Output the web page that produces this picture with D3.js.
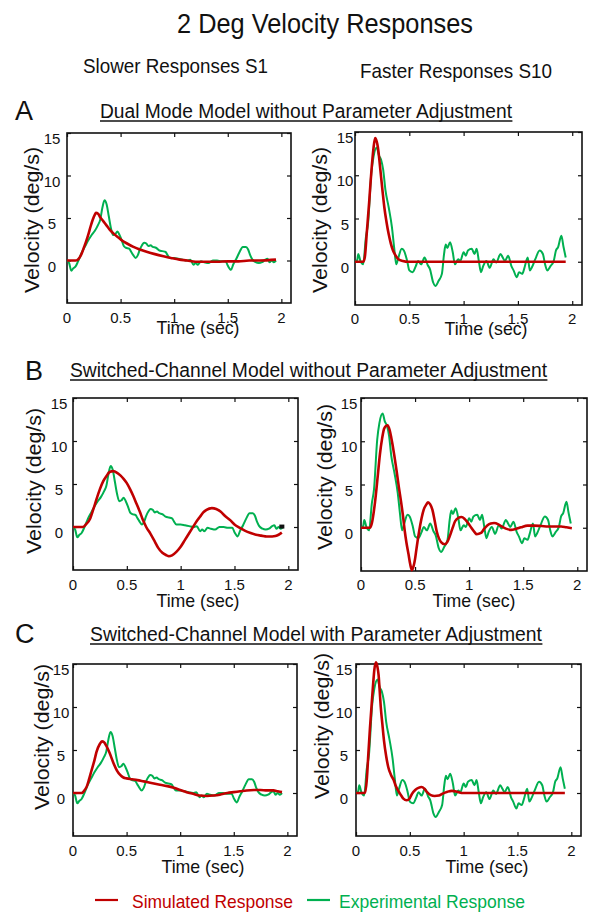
<!DOCTYPE html>
<html>
<head>
<meta charset="utf-8">
<script src="https://cdn.jsdelivr.net/npm/d3@7"></script>
<style>
  html, body { margin: 0; padding: 0; background: #fff; }
  svg { display: block; }
</style>
</head>
<body>
<svg id="chart" width="589" height="914"></svg>
<script>
// ---------------- DATA ----------------
const xTicks = [0, 0.5, 1, 1.5, 2];
const xTickLabels = ["0", "0.5", "1", "1.5", "2"];
const yTicks = [0, 5, 10, 15];
const yTickLabels = ["0", "5", "10", "15"];

const seriesNames = ["Simulated Response", "Experimental Response"];
const panelLetters = ["A", "B", "C"];
const rowTitles = [
  "Dual Mode Model without Parameter Adjustment",
  "Switched-Channel  Model without Parameter Adjustment",
  "Switched-Channel  Model with Parameter Adjustment"
];
const columnTitles = ["Slower Responses S1", "Faster Responses S10"];
const mainTitle = "2 Deg Velocity Responses";
const xLabel = "Time (sec)";
const yLabel = "Velocity (deg/s)";

// Experimental response, subject S1 (slower) [time s, velocity deg/s]
const expS1 = [[0,0],[0.02,-0.3],[0.04,-1.2],[0.06,-0.9],[0.08,-0.7],[0.10,-0.2],[0.12,0.4],[0.14,1.0],[0.17,1.7],[0.20,2.4],[0.23,3.0],[0.26,3.5],[0.29,4.2],[0.31,4.8],[0.33,6.2],[0.35,7.1],[0.37,6.6],[0.39,5.2],[0.41,3.8],[0.43,3.0],[0.45,3.1],[0.47,3.4],[0.49,3.0],[0.51,2.4],[0.53,1.7],[0.55,1.5],[0.58,1.4],[0.60,1.0],[0.62,0.6],[0.64,0.3],[0.66,0.6],[0.68,1.3],[0.70,1.8],[0.72,2.1],[0.74,2.0],[0.76,1.7],[0.78,1.8],[0.80,1.6],[0.83,1.5],[0.86,1.2],[0.89,1.1],[0.92,1.0],[0.94,0.6],[0.96,0.3],[1.0,0.3],[1.04,0.2],[1.08,0.1],[1.12,0.0],[1.15,0.1],[1.18,-0.5],[1.20,-0.3],[1.22,-0.5],[1.25,-0.1],[1.28,-0.2],[1.32,-0.3],[1.36,0.0],[1.40,0.0],[1.44,-0.1],[1.48,-0.1],[1.50,-0.6],[1.53,-1.1],[1.55,-0.5],[1.58,0.2],[1.61,1.0],[1.64,1.6],[1.67,1.6],[1.69,1.3],[1.71,0.6],[1.73,0.1],[1.76,-0.2],[1.79,-0.3],[1.82,-0.2],[1.85,0.1],[1.87,0.2],[1.89,-0.2],[1.91,0.0],[1.93,-0.2],[1.95,0.0]];

// Experimental response, subject S10 (faster)
const expS10 = [[0,0],[0.02,0.2],[0.03,0.9],[0.05,0.1],[0.075,-0.3],[0.1,2.8],[0.12,4.4],[0.15,10.2],[0.17,12.1],[0.2,13.2],[0.22,12.3],[0.24,11.8],[0.26,10.6],[0.28,8.3],[0.31,6.3],[0.34,4.0],[0.36,1.7],[0.38,-0.3],[0.40,0.5],[0.43,1.5],[0.45,1.3],[0.48,0.1],[0.50,-1.0],[0.53,-1.2],[0.56,-0.5],[0.58,0.1],[0.61,-0.3],[0.64,0.5],[0.67,-0.4],[0.69,-0.85],[0.72,-2.4],[0.74,-2.8],[0.77,-2.2],[0.80,-1.4],[0.82,0.9],[0.835,2.0],[0.85,1.6],[0.875,2.25],[0.90,1.1],[0.92,-0.3],[0.95,0.3],[0.97,0.1],[1.0,1.1],[1.02,0.7],[1.04,1.3],[1.075,1.5],[1.10,0.9],[1.12,1.5],[1.14,0.1],[1.16,-1.2],[1.18,-0.5],[1.21,0.1],[1.24,-0.7],[1.275,0.3],[1.30,-0.1],[1.34,0.9],[1.36,0.5],[1.38,0.1],[1.41,0.7],[1.44,-0.5],[1.46,-1.0],[1.49,-1.8],[1.51,-1.2],[1.54,-1.4],[1.56,-0.7],[1.59,0.5],[1.61,-1.0],[1.63,-0.6],[1.66,0.3],[1.70,1.3],[1.73,0.9],[1.75,-0.3],[1.77,-1.0],[1.80,-0.5],[1.83,0.1],[1.85,1.3],[1.87,1.7],[1.90,3.0],[1.92,1.7],[1.94,0.5]];

// Simulated responses
const simA_S1 = [[0,0],[0.08,0],[0.10,0.1],[0.12,0.4],[0.14,0.9],[0.16,1.6],[0.18,2.3],[0.20,3.1],[0.22,4.0],[0.24,4.8],[0.26,5.4],[0.27,5.6],[0.29,5.5],[0.31,5.1],[0.34,4.6],[0.37,4.1],[0.40,3.6],[0.44,3.1],[0.48,2.7],[0.52,2.3],[0.56,2.0],[0.62,1.6],[0.68,1.3],[0.75,1.0],[0.82,0.75],[0.90,0.5],[0.97,0.3],[1.05,0.1],[1.12,0.0],[1.20,-0.15],[1.30,-0.15],[1.40,-0.15],[1.50,-0.1],[1.60,-0.1],[1.70,0.0],[1.80,0.0],[1.95,0.1]];
const simA_S10 = [[0,0],[0.075,0],[0.09,0.5],[0.11,3.6],[0.13,6.8],[0.14,8.6],[0.16,11.8],[0.17,13.1],[0.185,14.3],[0.20,13.9],[0.21,13.3],[0.225,11.7],[0.24,9.8],[0.255,8.0],[0.27,6.3],[0.29,4.6],[0.31,3.2],[0.33,2.1],[0.35,1.3],[0.375,0.7],[0.40,0.3],[0.44,0.1],[0.49,0],[0.7,0],[1.0,0],[1.3,0],[1.6,0],[1.94,0]];
const simB_S1 = [[0,0],[0.09,0],[0.12,0.3],[0.16,1.0],[0.19,2.1],[0.22,3.3],[0.25,4.4],[0.28,5.3],[0.31,5.9],[0.34,6.4],[0.375,6.5],[0.41,6.3],[0.44,6.0],[0.47,5.6],[0.50,5.1],[0.53,4.4],[0.56,3.6],[0.59,2.7],[0.62,1.8],[0.65,0.8],[0.68,0.0],[0.72,-0.8],[0.76,-1.7],[0.79,-2.4],[0.83,-3.0],[0.87,-3.3],[0.89,-3.4],[0.92,-3.3],[0.96,-2.9],[1.00,-2.3],[1.04,-1.5],[1.08,-0.7],[1.12,0.1],[1.15,0.7],[1.18,1.2],[1.21,1.7],[1.24,2.0],[1.29,2.2],[1.33,2.1],[1.37,1.8],[1.41,1.3],[1.46,0.8],[1.50,0.3],[1.55,-0.1],[1.60,-0.45],[1.65,-0.7],[1.70,-0.9],[1.75,-1.0],[1.80,-1.1],[1.85,-1.1],[1.88,-1.05],[1.91,-0.9],[1.94,-0.65]];
const simB_S10 = [[0,0],[0.083,0],[0.10,0.5],[0.13,3.0],[0.155,6.0],[0.175,8.5],[0.195,10.3],[0.215,11.5],[0.245,11.85],[0.265,11.3],[0.28,10.4],[0.305,8.6],[0.33,6.5],[0.35,4.7],[0.37,3.05],[0.39,1.2],[0.405,-0.4],[0.42,-1.7],[0.44,-3.1],[0.455,-4.2],[0.47,-4.9],[0.485,-4.5],[0.50,-3.6],[0.51,-2.7],[0.535,-0.6],[0.56,1.1],[0.58,2.1],[0.605,2.7],[0.62,2.95],[0.64,2.7],[0.66,2.1],[0.68,0.9],[0.70,-0.4],[0.72,-1.2],[0.74,-1.65],[0.775,-1.9],[0.80,-1.6],[0.82,-1.0],[0.845,-0.1],[0.87,0.75],[0.90,1.15],[0.93,1.25],[0.96,1.0],[0.99,0.55],[1.02,0.0],[1.05,-0.5],[1.07,-0.75],[1.11,-0.6],[1.14,-0.1],[1.17,0.3],[1.20,0.5],[1.23,0.55],[1.27,0.4],[1.30,0.15],[1.34,-0.1],[1.39,-0.25],[1.43,-0.15],[1.48,0.05],[1.54,0.25],[1.60,0.25],[1.67,0.2],[1.73,0.15],[1.79,0.15],[1.85,0.15],[1.90,0.05],[1.95,-0.05]];
const simC_S1 = [[0,0],[0.08,0],[0.10,0.2],[0.13,0.8],[0.15,1.6],[0.17,2.5],[0.20,3.8],[0.22,4.8],[0.25,5.7],[0.27,6.0],[0.29,5.9],[0.31,5.5],[0.34,4.7],[0.38,3.4],[0.41,2.6],[0.44,2.1],[0.47,1.8],[0.50,1.7],[0.55,1.6],[0.60,1.5],[0.66,1.35],[0.72,1.2],[0.80,1.0],[0.88,0.8],[0.94,0.6],[1.00,0.35],[1.06,0.1],[1.12,-0.1],[1.18,-0.3],[1.25,-0.35],[1.31,-0.3],[1.37,-0.2],[1.44,0.0],[1.50,0.1],[1.56,0.2],[1.62,0.3],[1.69,0.35],[1.75,0.35],[1.81,0.3],[1.87,0.3],[1.91,0.2],[1.95,0.1]];
const simC_S10 = [[0,0],[0.084,0],[0.10,1.5],[0.115,4.6],[0.13,7.6],[0.146,10.4],[0.16,12.8],[0.17,14.3],[0.186,15.2],[0.20,14.6],[0.21,13.7],[0.22,11.9],[0.23,10.0],[0.245,8.0],[0.26,6.1],[0.28,4.3],[0.30,3.0],[0.325,2.1],[0.35,1.5],[0.37,0.8],[0.39,0.3],[0.415,-0.2],[0.44,-0.65],[0.47,-0.85],[0.50,-0.6],[0.52,-0.1],[0.55,0.35],[0.58,0.6],[0.61,0.7],[0.635,0.5],[0.66,0.1],[0.695,-0.25],[0.73,-0.35],[0.77,-0.3],[0.80,-0.1],[0.85,0.15],[0.89,0.25],[0.94,0.15],[0.98,0.0],[1.05,0.0],[1.2,0.0],[1.4,0.0],[1.6,0.0],[1.8,0.0],[1.94,0.0]];

// small black end mark present in panel B (left)
const markB_S1 = [[1.94, 0.05]];

// ---------------- LAYOUT ----------------
const RED = "#c00000", GREEN = "#00b050";
const FONT = "'Liberation Sans', Arial, Helvetica, sans-serif";
const X_DOMAIN = [0, 2.09], Y_DOMAIN = [-5, 15];

const panels = [
  {sim: simA_S1,  exp: expS1,  box: [67, 291, 133, 303], yTickX: 52,  yLabX: 39,  yLabY: 220, tLabX: 198, tLabY: 334, xTickY: 323},
  {sim: simA_S10, exp: expS10, box: [355, 582, 132, 305], yTickX: 345, yLabX: 327, yLabY: 220, tLabX: 486, tLabY: 335, xTickY: 324},
  {sim: simB_S1,  exp: expS1,  box: [73, 298, 398, 570], yTickX: 59,  yLabX: 41,  yLabY: 481, tLabX: 198, tLabY: 607, xTickY: 590, mark: markB_S1},
  {sim: simB_S10, exp: expS10, box: [361, 587, 398, 571], yTickX: 349, yLabX: 332, yLabY: 477, tLabX: 474, tLabY: 607, xTickY: 590},
  {sim: simC_S1,  exp: expS1,  box: [73, 297, 664, 836], yTickX: 61,  yLabX: 49,  yLabY: 737, tLabX: 203, tLabY: 873, xTickY: 856},
  {sim: simC_S10, exp: expS10, box: [356, 581, 664, 836], yTickX: 344, yLabX: 329, yLabY: 726, tLabX: 487, tLabY: 873, xTickY: 856}
];

const svg = d3.select("#chart");
svg.append("rect").attr("width", 589).attr("height", 914).attr("fill", "#fff");

function txt(opts) {
  const t = svg.append("text")
    .attr("x", opts.x).attr("y", opts.y)
    .attr("font-family", FONT)
    .attr("font-size", opts.size)
    .attr("fill", opts.fill || "#111")
    .attr("text-anchor", opts.anchor || "start")
    .text(opts.text);
  if (opts.len) t.attr("textLength", opts.len).attr("lengthAdjust", "spacingAndGlyphs");
  if (opts.rotate) t.attr("transform", `rotate(${opts.rotate},${opts.x},${opts.y})`);
  return t;
}

// Main title and column titles
txt({x: 325, y: 33, text: mainTitle, size: 28, anchor: "middle", len: 296});
txt({x: 83, y: 73, text: columnTitles[0], size: 21, len: 185});
txt({x: 360, y: 78, text: columnTitles[1], size: 21, len: 192});

// Row letters and titles
const rowHead = [
  {lx: 15, ly: 120, tx: 100, ty: 118, tlen: 412},
  {lx: 25, ly: 380, tx: 70,  ty: 377, tlen: 477},
  {lx: 15, ly: 643, tx: 90,  ty: 641, tlen: 452}
];
rowHead.forEach((r, i) => {
  txt({x: r.lx, y: r.ly, text: panelLetters[i], size: 27, fill: "#111"});
  const t = txt({x: r.tx, y: r.ty, text: rowTitles[i], size: 20, len: r.tlen});
  const bb = t.node().getBBox();
  svg.append("line")
    .attr("x1", bb.x).attr("x2", bb.x + bb.width)
    .attr("y1", r.ty + 3).attr("y2", r.ty + 3)
    .attr("stroke", "#111").attr("stroke-width", 1.5);
});

// Panels
panels.forEach(p => {
  const [x0, x1, y0, y1] = p.box;
  const x = d3.scaleLinear().domain(X_DOMAIN).range([x0, x1]);
  const y = d3.scaleLinear().domain(Y_DOMAIN).range([y1, y0]);
  const g = svg.append("g");

  // inward tick marks on all four sides
  const tl = 4;
  g.append("g").attr("transform", `translate(0,${y1})`)
    .call(d3.axisBottom(x).tickValues(xTicks).tickSize(-tl).tickFormat(""))
    .call(a => a.select(".domain").remove());
  g.append("g").attr("transform", `translate(0,${y0})`)
    .call(d3.axisTop(x).tickValues(xTicks).tickSize(-tl).tickFormat(""))
    .call(a => a.select(".domain").remove());
  g.append("g").attr("transform", `translate(${x0},0)`)
    .call(d3.axisLeft(y).tickValues(yTicks).tickSize(-tl).tickFormat(""))
    .call(a => a.select(".domain").remove());
  g.append("g").attr("transform", `translate(${x1},0)`)
    .call(d3.axisRight(y).tickValues(yTicks).tickSize(-tl).tickFormat(""))
    .call(a => a.select(".domain").remove());
  g.selectAll(".tick line").attr("stroke", "#111").attr("stroke-width", 1.2);

  // box
  g.append("rect").attr("x", x0).attr("y", y0)
    .attr("width", x1 - x0).attr("height", y1 - y0)
    .attr("fill", "none").attr("stroke", "#111").attr("stroke-width", 1.6);

  // tick labels
  xTicks.forEach((v, i) => {
    txt({x: x(v), y: p.xTickY, text: xTickLabels[i], size: 15, anchor: "middle"});
  });
  yTicks.forEach((v, i) => {
    txt({x: p.yTickX, y: y(v) + 11, text: yTickLabels[i], size: 15, anchor: "middle"});
  });

  // axis labels
  txt({x: p.yLabX, y: p.yLabY, text: yLabel, size: 20, anchor: "middle", len: 146, rotate: -90});
  txt({x: p.tLabX, y: p.tLabY, text: xLabel, size: 19, anchor: "middle", len: 83});

  const line = d3.line().x(d => x(d[0])).y(d => y(d[1])).curve(d3.curveMonotoneX);
  g.append("path").datum(p.exp).attr("d", line)
    .attr("fill", "none").attr("stroke", GREEN).attr("stroke-width", 2)
    .attr("stroke-linejoin", "round");
  g.append("path").datum(p.sim).attr("d", line)
    .attr("fill", "none").attr("stroke", RED).attr("stroke-width", 2.6)
    .attr("stroke-linejoin", "round");

  if (p.mark) {
    g.selectAll(".mark").data(p.mark).enter().append("rect")
      .attr("x", d => x(d[0]) - 2.5).attr("y", d => y(d[1]) - 2)
      .attr("width", 5).attr("height", 4).attr("fill", "#111");
  }
});

// Legend
const legend = [
  {name: seriesNames[0], color: RED,   lx: 95,  tx: 132, len: 161},
  {name: seriesNames[1], color: GREEN, lx: 307, tx: 339, len: 186}
];
legend.forEach(l => {
  svg.append("line").attr("x1", l.lx).attr("x2", l.lx + 23)
    .attr("y1", 900).attr("y2", 900)
    .attr("stroke", l.color).attr("stroke-width", 2.2);
  txt({x: l.tx, y: 908, text: l.name, size: 19, fill: l.color, len: l.len});
});
</script>
</body>
</html>
